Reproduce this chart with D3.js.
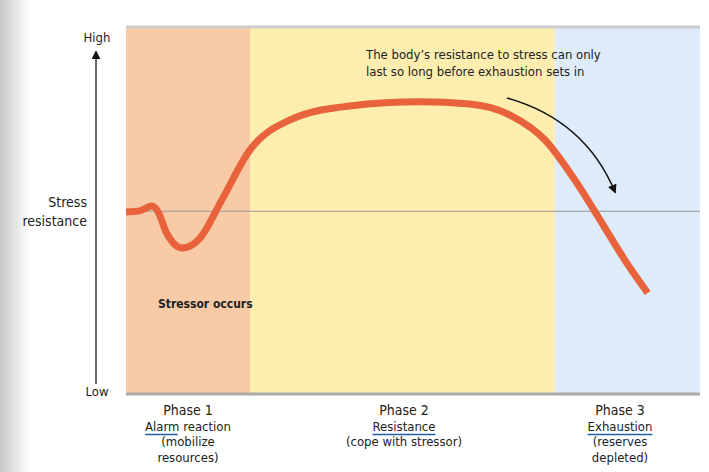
<!DOCTYPE html>
<html><head><meta charset="utf-8">
<script src="https://cdn.jsdelivr.net/npm/d3@7"></script>
<style>body{margin:0;background:#fff}text{font-family:"Liberation Sans Narrow","DejaVu Sans Condensed",sans-serif;fill:#222}</style>
</head><body><div id="chart"></div>
<script>
// Chart data (x: time 0-100, y: stress resistance 0-100)
var curveX = [0, 2.4, 4.5, 5.6, 7.0, 9.8, 12.9, 16.7, 21.6, 28.6, 39.0, 51.2, 59.9, 66.9, 73.0, 78.2, 82.6, 86.9, 90.9];
var curveY = [49.6, 49.9, 51.2, 49.6, 44.1, 39.8, 42.5, 52.9, 66.5, 74.7, 78.5, 79.6, 79.0, 76.0, 69.2, 58.3, 47.4, 36.5, 27.5];
var phaseStarts = [0, 21.6, 74.7];
var phaseEnds = [21.6, 74.7, 100];
var phaseColors = ["#f8cba6", "#fdeeb0", "#deebf8"];
var phaseLabels = [
    ["Phase 1", "Alarm reaction", "(mobilize", "resources)"],
    ["Phase 2", "Resistance", "(cope with stressor)"],
    ["Phase 3", "Exhaustion", "(reserves", "depleted)"]
];
var baseline = 49.8;

var svgWidth = 709, svgHeight = 472;
var svg = d3.select("#chart").append("svg").attr("width", svgWidth).attr("height", svgHeight);

// faint grey page edge on the left
var grad = svg.append("defs").append("linearGradient").attr("id", "edge");
grad.append("stop").attr("offset", "0%").attr("stop-color", "#c8c8c8");
grad.append("stop").attr("offset", "100%").attr("stop-color", "#fff");
svg.append("rect").attr("width", 30).attr("height", svgHeight).attr("fill", "url(#edge)");

var x = d3.scaleLinear().domain([0, 100]).range([126, 700]);
var y = d3.scaleLinear().domain([0, 100]).range([394, 27]);

// phase bands
svg.selectAll("rect.band").data(phaseStarts).enter().append("rect")
    .attr("class", "band")
    .attr("x", d => x(d)).attr("y", y(100))
    .attr("width", (d, i) => x(phaseEnds[i]) - x(d))
    .attr("height", y(0) - y(100))
    .attr("fill", (d, i) => phaseColors[i]);
svg.append("line").attr("x1", x(0)).attr("x2", x(100)).attr("y1", y(100)).attr("y2", y(100))
    .attr("stroke", "#ccc").attr("stroke-width", 3);
svg.append("line").attr("x1", x(0)).attr("x2", x(100)).attr("y1", y(0)).attr("y2", y(0))
    .attr("stroke", "#aaa").attr("stroke-width", 3);

// baseline
svg.append("line").attr("x1", x(0)).attr("x2", x(100)).attr("y1", y(baseline)).attr("y2", y(baseline))
    .attr("stroke", "#999").attr("stroke-width", 1);

// curve
var line = d3.line().x(d => x(d[0])).y(d => y(d[1])).curve(d3.curveMonotoneX);
svg.append("path").datum(d3.zip(curveX, curveY)).attr("d", line)
    .attr("fill", "none").attr("stroke", "#e8623c").attr("stroke-width", 7).attr("stroke-linecap", "butt");

// arrow markers
var defs = svg.append("defs");
defs.append("marker").attr("id", "head").attr("viewBox", "0 0 10 10").attr("refX", 8).attr("refY", 5)
    .attr("markerWidth", 6).attr("markerHeight", 6).attr("orient", "auto")
    .append("path").attr("d", "M0,0L10,5L0,10z").attr("fill", "#111");

// vertical axis arrow
svg.append("line").attr("x1", 96).attr("x2", 96).attr("y1", 384).attr("y2", 52)
    .attr("stroke", "#333").attr("stroke-width", 1.5).attr("marker-end", "url(#head)");
svg.append("text").attr("x", 97).attr("y", 42).attr("text-anchor", "middle").attr("font-size", 13).text("High");
svg.append("text").attr("x", 97).attr("y", 396).attr("text-anchor", "middle").attr("font-size", 13).text("Low");
svg.append("text").attr("x", 87).attr("y", 207).attr("text-anchor", "end").attr("font-size", 14).text("Stress");
svg.append("text").attr("x", 87).attr("y", 226).attr("text-anchor", "end").attr("font-size", 14).text("resistance");

// annotations
svg.append("text").attr("x", 158).attr("y", 308).attr("font-size", 12).attr("font-weight", "bold").text("Stressor occurs");
svg.append("text").attr("x", 366).attr("y", 59).attr("font-size", 13).text("The body\u2019s resistance to stress can only");
svg.append("text").attr("x", 366).attr("y", 76).attr("font-size", 13).text("last so long before exhaustion sets in");
svg.append("path").attr("d", "M507,98 Q585,120 615,192").attr("fill", "none")
    .attr("stroke", "#111").attr("stroke-width", 1.5).attr("marker-end", "url(#head)");

// phase labels
var centers = [188, 404, 620];
phaseLabels.forEach(function (lines, i) {
    lines.forEach(function (t, j) {
        var tx = svg.append("text").attr("x", centers[i]).attr("y", 415 + j * 15.5)
            .attr("text-anchor", "middle").attr("font-size", j === 0 ? 14 : 13).text(t);
        if (j === 1) {
            var bb = tx.node().getBBox();
            var w = i === 0 ? bb.width * 0.38 : bb.width;
            svg.append("line").attr("x1", bb.x).attr("x2", bb.x + w).attr("y1", 434.5).attr("y2", 434.5)
                .attr("stroke", "#1f5fa8").attr("stroke-width", 1.5);
        }
    });
});
</script></body></html>
